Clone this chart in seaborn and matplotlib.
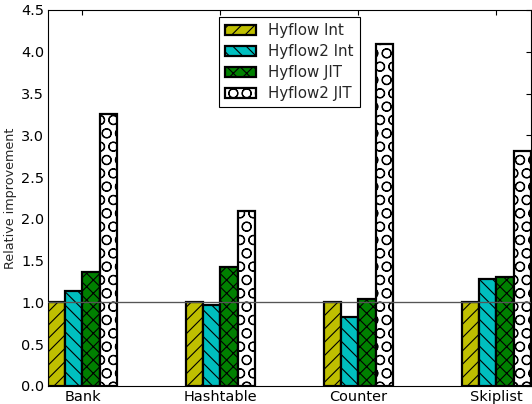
import matplotlib
matplotlib.use("Agg")
import matplotlib.pyplot as plt
import pandas as pd
import seaborn as sns

benchmarks = ["Bank", "Hashtable", "Counter", "Skiplist"]
systems = ["Hyflow Int", "Hyflow2 Int", "Hyflow JIT", "Hyflow2 JIT"]
hyflow_int = [1.0, 1.0, 1.0, 1.0]
hyflow2_int = [1.14, 0.97, 0.82, 1.28]
hyflow_jit = [1.36, 1.42, 1.04, 1.30]
hyflow2_jit = [3.26, 2.10, 4.09, 2.81]
y_ticks = [0.0, 0.5, 1.0, 1.5, 2.0, 2.5, 3.0, 3.5, 4.0, 4.5]

colors = ["#bfbf00", "#00bfbf", "#008000", "#ffffff"]
hatches = ["//", "\\\\", "xx", "O"]

series = [hyflow_int, hyflow2_int, hyflow_jit, hyflow2_jit]
rows = []
for name, vals in zip(systems, series):
    for b, v in zip(benchmarks, vals):
        rows.append({"benchmark": b, "system": name, "value": v})
df = pd.DataFrame(rows)

sns.set_style("white")
plt.rcParams["font.family"] = ["DejaVu Sans"]
plt.rcParams["hatch.linewidth"] = 1.0

fig = plt.figure(figsize=(6.65, 5.05), dpi=80)
ax = fig.add_axes([0.0902, 0.0446, 0.9078, 0.9307])

sns.barplot(data=df, x="benchmark", y="value", hue="system",
            order=benchmarks, hue_order=systems, palette=colors,
            width=0.5, gap=0, saturation=1, errorbar=None,
            edgecolor="black", linewidth=2.0, ax=ax, zorder=2)

for cont, h in zip(ax.containers, hatches):
    for p in cont.patches:
        p.set_hatch(h)
        p.set_edgecolor("black")

# reference level at 1.0 (no improvement)
ax.axhline(1.0, color="#555555", lw=1.2, zorder=5)

ax.set_xlim(-0.25, 3.25)
ax.set_ylim(0, 4.5)
ax.set_yticks(y_ticks)
ax.set_yticklabels([f"{t:.1f}" for t in y_ticks])
ax.set_xlabel("")
ax.set_ylabel("Relative improvement", fontsize=11.5)
ax.tick_params(axis="both", which="major", labelsize=13, direction="in",
               length=4.5, width=1, top=True, right=True, color="black",
               labelcolor="black")
for s in ax.spines.values():
    s.set_visible(True)
    s.set_color("black")
    s.set_linewidth(1.0)

ax.get_legend().remove()
handles = [c.patches[0] for c in ax.containers]
leg = ax.legend(handles, systems, loc="upper center", fontsize=13.5,
                frameon=True, fancybox=False, edgecolor="black",
                borderaxespad=0.5, handlelength=2.1, handleheight=0.65,
                labelspacing=0.4)
leg.get_frame().set_linewidth(1.0)
leg.get_frame().set_alpha(1)

fig.savefig("out.png", dpi=80)
